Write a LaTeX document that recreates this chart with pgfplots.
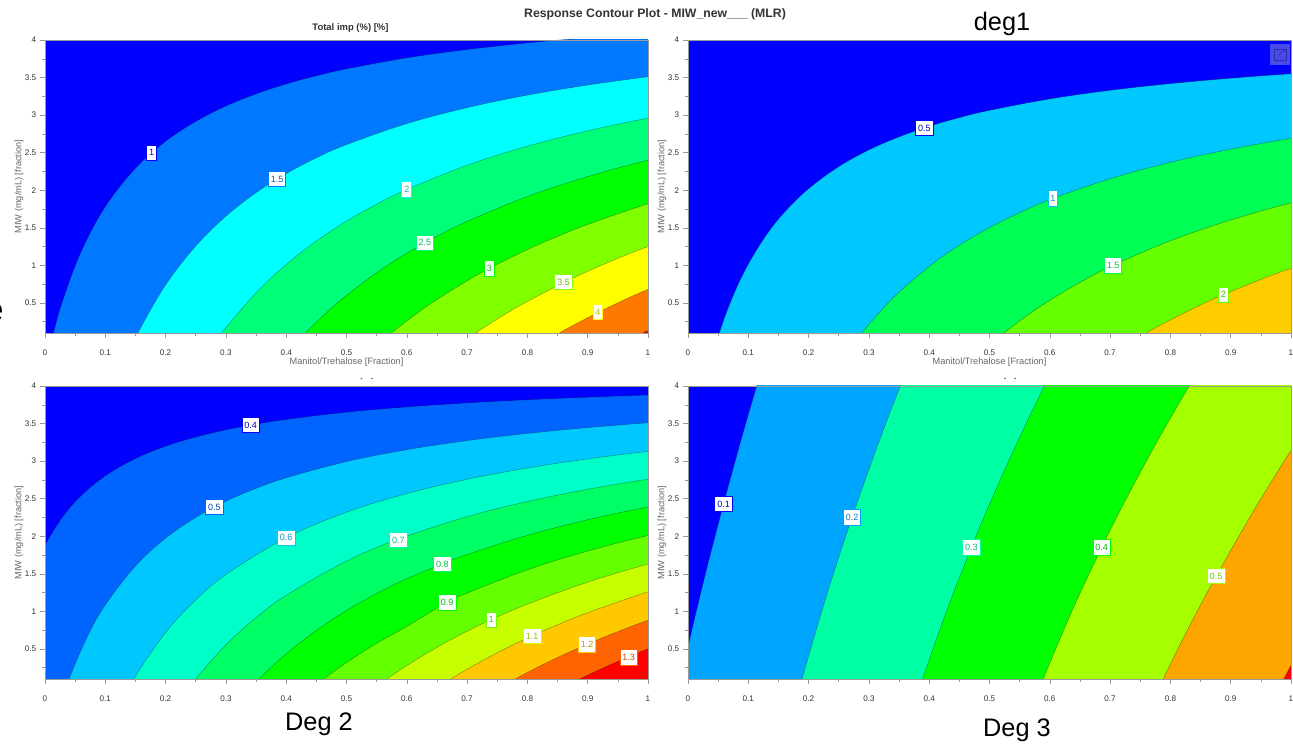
\documentclass[border=0pt]{standalone}
\usepackage{fontspec}
\setmainfont{Liberation Sans}
\usepackage{pgfplots}
\pgfplotsset{compat=1.18}
\definecolor{axg}{HTML}{9A9A9A}
\definecolor{txg}{HTML}{333333}
\definecolor{labg}{HTML}{666666}
\definecolor{iconf}{HTML}{4A4AE8}
\definecolor{icond}{HTML}{2C2CB0}
\pgfplotsset{
  cp/.style={
    scale only axis, width=452.25pt, height=219.75pt,
    xmin=0, xmax=1, ymin=0.1, ymax=4,
    xtick={0,0.1,0.2,0.3,0.4,0.5,0.6,0.7,0.8,0.9,1},
    minor xtick={0.05,0.15,0.25,0.35,0.45,0.55,0.65,0.75,0.85,0.95},
    ytick={0.5,1,1.5,2,2.5,3,3.5,4},
    minor ytick={0.25,0.75,1.25,1.75,2.25,2.75,3.25,3.75},
    xtick pos=bottom, ytick pos=left, tick align=outside,
    major tick length=3.6pt, minor tick length=2pt,
    tick style={axg, line width=0.4pt},
    axis line style={axg, line width=0.45pt},
    axis background/.style={fill=lvA},
    axis on top,
    clip mode=global,
    tick label style={font=\fontsize{6.1}{7}\selectfont, text=txg},
    /pgf/number format/assume math mode=true,
    /pgf/number format/fixed, /pgf/number format/precision=2,
    xticklabel style={yshift=-5.5pt},
    yticklabel style={xshift=0.5pt},
    every axis x label/.style={at={(axis description cs:0.5,0)},anchor=center,yshift=-22pt,font=\fontsize{6.9}{8}\selectfont,text=labg},
    every axis y label/.style={at={(axis description cs:0,0.5)},rotate=90,anchor=center,yshift=19.5pt,font=\fontsize{6.9}{8}\selectfont,text=labg},
    ylabel={MIW (mg/mL) [fraction]},
  },
  rg/.style={smooth, tension=0.6, fill=#1, draw=black, draw opacity=0.35, line width=0.4pt, no markers, forget plot},
}
\newcommand{\lab}[4]{\node[fill=white,draw=#4,line width=0.6pt,inner xsep=1.8pt,inner ysep=3.4pt,text=#4!75!black,font=\fontsize{6.8}{7}\selectfont] at (axis cs:#1,#2) {#3};}
\colorlet{lvA}{blue}
\begin{document}
\begin{tikzpicture}[x=0.75pt,y=0.75pt]
\path[use as bounding box] (0,0) rectangle (1293,744);
\definecolor{a1}{HTML}{0078FF}\definecolor{a2}{HTML}{00FFFF}\definecolor{a3}{HTML}{00FF78}\definecolor{a4}{HTML}{00FF00}\definecolor{a5}{HTML}{80FF00}\definecolor{a6}{HTML}{FFFF00}\definecolor{a7}{HTML}{FF7800}
\definecolor{b1}{HTML}{00C8FF}\definecolor{b2}{HTML}{00FF55}\definecolor{b3}{HTML}{66FF00}\definecolor{b4}{HTML}{FFCC00}
\definecolor{c1}{HTML}{0064FF}\definecolor{c2}{HTML}{00C8FF}\definecolor{c3}{HTML}{00FFC8}\definecolor{c4}{HTML}{00FF64}\definecolor{c5}{HTML}{00FF00}\definecolor{c6}{HTML}{64FF00}\definecolor{c7}{HTML}{C8FF00}\definecolor{c8}{HTML}{FFC800}\definecolor{c9}{HTML}{FF6400}
\definecolor{d1}{HTML}{00A5FF}\definecolor{d2}{HTML}{00FFA5}\definecolor{d3}{HTML}{00FF00}\definecolor{d4}{HTML}{A5FF00}\definecolor{d5}{HTML}{FFA500}

% Top left
\begin{axis}[cp, at={(33.75pt,308.25pt)}, anchor=south west,
  xlabel={Manitol/Trehalose [Fraction]},
  title={Total imp (\%) [\%]},
  title style={font=\fontsize{7.1}{8}\bfseries\selectfont,text=txg,at={(axis description cs:0.5,1)},anchor=center,xshift=3pt,yshift=3pt}]
\addplot[rg=a1] coordinates {(0,-0.377)(0.014,0.1)(0.03,0.546)(0.06,1.184)(0.1,1.781)(0.15,2.292)(0.2,2.65)(0.25,2.915)(0.3,3.12)(0.35,3.282)(0.4,3.414)(0.45,3.523)(0.5,3.615)(0.6,3.762)(0.7,3.873)(0.8,3.961)(0.853,4.0)(0.95,4.062)(1.1,4.138)(1.25,4.2)(1.5,4.25)(1.6,3)(1.6,-2)};
\addplot[rg=a2] coordinates {(0.13,-0.324)(0.154,0.1)(0.2,0.739)(0.25,1.257)(0.3,1.654)(0.35,1.967)(0.4,2.221)(0.45,2.431)(0.5,2.607)(0.6,2.887)(0.7,3.099)(0.8,3.266)(0.9,3.4)(1,3.51)(1.1,3.602)(1.25,3.7)(1.5,3.8)(1.6,3)(1.6,-2)};
\addplot[rg=a3] coordinates {(0.27,-0.157)(0.293,0.1)(0.35,0.634)(0.4,1.011)(0.45,1.324)(0.5,1.588)(0.55,1.814)(0.6,2.01)(0.7,2.332)(0.8,2.586)(0.9,2.791)(1,2.96)(1.1,3.102)(1.25,3.25)(1.5,3.4)(1.6,2.5)(1.6,-2)};
\addplot[rg=a4] coordinates {(0.41,-0.089)(0.432,0.1)(0.47,0.394)(0.5,0.6)(0.55,0.902)(0.6,1.161)(0.65,1.387)(0.7,1.585)(0.8,1.916)(0.9,2.182)(1,2.4)(1.1,2.582)(1.25,2.8)(1.5,3)(1.6,2)(1.6,-2)};
\addplot[rg=a5] coordinates {(0.55,-0.062)(0.574,0.1)(0.62,0.381)(0.65,0.546)(0.7,0.795)(0.74,0.973)(0.8,1.211)(0.85,1.386)(0.9,1.545)(1,1.82)(1.1,2.05)(1.25,2.3)(1.5,2.6)(1.6,1.5)(1.6,-2)};
\addplot[rg=a6] coordinates {(0.69,-0.034)(0.714,0.1)(0.76,0.335)(0.8,0.52)(0.86,0.77)(0.9,0.921)(0.95,1.093)(1,1.25)(1.1,1.524)(1.25,1.85)(1.5,2.2)(1.6,1)(1.6,-2)};
\addplot[rg=a7] coordinates {(0.8,-0.155)(0.853,0.1)(0.9,0.303)(0.95,0.501)(1,0.68)(1.1,0.995)(1.25,1.35)(1.5,1.8)(1.6,0.5)(1.6,-2)};
\addplot[rg=red] coordinates {(0.97,0)(0.995,0.1)(1,0.13)(1.1,0.4)(1.25,0.7)(1.5,1)(1.6,0)(1.6,-2)};
\lab{0.177}{2.5}{1}{blue}
\lab{0.385}{2.15}{1.5}{a1}
\lab{0.6}{2.01}{2}{a2}
\lab{0.63}{1.3}{2.5}{a3}
\lab{0.737}{0.96}{3}{a4}
\lab{0.86}{0.78}{3.5}{a5}
\lab{0.917}{0.38}{4}{a6}
\end{axis}

% Top right
\begin{axis}[cp, at={(516pt,308.25pt)}, anchor=south west,
  xlabel={Manitol/Trehalose [Fraction]}]
\addplot[rg=b1] coordinates {(0.03,-0.527)(0.052,0.1)(0.075,0.598)(0.1,1.016)(0.13,1.404)(0.16,1.707)(0.2,2.02)(0.25,2.314)(0.3,2.536)(0.35,2.71)(0.4,2.851)(0.45,2.966)(0.5,3.063)(0.6,3.215)(0.7,3.33)(0.8,3.419)(0.9,3.491)(1,3.55)(1.1,3.599)(1.25,3.7)(1.5,3.8)(1.6,3)(1.6,-2)};
\addplot[rg=b2] coordinates {(0.265,-0.148)(0.288,0.1)(0.34,0.566)(0.4,0.986)(0.45,1.268)(0.5,1.503)(0.55,1.702)(0.605,1.89)(0.7,2.153)(0.8,2.371)(0.9,2.546)(1,2.69)(1.1,2.809)(1.25,2.95)(1.5,3.1)(1.6,2.2)(1.6,-2)};
\addplot[rg=b3] coordinates {(0.5,-0.06)(0.524,0.1)(0.56,0.319)(0.6,0.535)(0.65,0.773)(0.705,1)(0.8,1.327)(0.9,1.604)(1,1.831)(1.1,2.019)(1.25,2.25)(1.5,2.5)(1.6,1.5)(1.6,-2)};
\addplot[rg=b4] coordinates {(0.73,-0.042)(0.76,0.1)(0.8,0.275)(0.85,0.474)(0.888,0.611)(0.95,0.813)(1,0.96)(1.1,1.217)(1.25,1.5)(1.5,1.8)(1.6,0.8)(1.6,-2)};
\lab{0.392}{2.83}{0.5}{blue}
\lab{0.605}{1.89}{1}{b1}
\lab{0.705}{1.0}{1.5}{b2}
\lab{0.888}{0.61}{2}{b3}
\end{axis}
% expand icon on the top right panel
\fill[iconf] (1270,679) rectangle (1290,700);
\draw[icond, line width=0.5pt] (1274,684) rectangle (1286,695);
\draw[icond, line width=0.5pt] (1279,689) -- (1285,694);
% clipped text fragments between the panels
\fill[black!60] (361.5,365.5) circle (0.9);
\fill[black!60] (372,365.5) circle (0.9);
\fill[black!60] (1005,365.5) circle (0.9);
\fill[black!60] (1015,365.5) circle (0.9);

% Bottom left
\begin{axis}[cp, at={(33.75pt,48.75pt)}, anchor=south west]
\addplot[rg=c1] coordinates {(-0.08,-0.8)(-0.05,0.715)(-0.02,1.522)(0,1.88)(0.03,2.265)(0.06,2.54)(0.1,2.804)(0.15,3.034)(0.2,3.198)(0.25,3.32)(0.3,3.416)(0.35,3.492)(0.4,3.555)(0.5,3.651)(0.6,3.721)(0.7,3.775)(0.8,3.817)(0.9,3.851)(1,3.88)(1.1,3.904)(1.25,3.95)(1.5,4)(1.6,3)(1.6,-2)};
\addplot[rg=c2] coordinates {(0.02,-0.385)(0.04,0.1)(0.07,0.661)(0.1,1.086)(0.15,1.604)(0.2,1.974)(0.25,2.251)(0.3,2.466)(0.35,2.637)(0.4,2.778)(0.5,2.994)(0.6,3.152)(0.7,3.273)(0.8,3.369)(0.9,3.446)(1,3.51)(1.1,3.563)(1.25,3.65)(1.5,3.75)(1.6,3)(1.6,-2)};
\addplot[rg=c3] coordinates {(0.12,-0.309)(0.147,0.1)(0.2,0.719)(0.25,1.152)(0.3,1.49)(0.4,1.98)(0.5,2.319)(0.6,2.568)(0.7,2.758)(0.8,2.908)(0.9,3.029)(1,3.13)(1.1,3.214)(1.25,3.33)(1.5,3.45)(1.6,2.5)(1.6,-2)};
\addplot[rg=c4] coordinates {(0.22,-0.23)(0.25,0.1)(0.3,0.553)(0.35,0.916)(0.4,1.213)(0.5,1.669)(0.586,1.962)(0.7,2.26)(0.8,2.462)(0.9,2.625)(1,2.76)(1.1,2.874)(1.25,3)(1.5,3.15)(1.6,2.2)(1.6,-2)};
\addplot[rg=c5] coordinates {(0.33,-0.113)(0.355,0.1)(0.4,0.434)(0.45,0.746)(0.5,1.011)(0.55,1.237)(0.6,1.434)(0.66,1.637)(0.7,1.757)(0.8,2.012)(0.9,2.219)(1,2.39)(1.1,2.533)(1.25,2.7)(1.5,2.9)(1.6,2)(1.6,-2)};
\addplot[rg=c6] coordinates {(0.44,-0.03)(0.462,0.1)(0.5,0.319)(0.55,0.575)(0.6,0.8)(0.667,1.124)(0.7,1.243)(0.8,1.553)(0.9,1.803)(1,2.01)(1.1,2.184)(1.25,2.4)(1.5,2.65)(1.6,1.6)(1.6,-2)};
\addplot[rg=c7] coordinates {(0.53,-0.121)(0.567,0.1)(0.6,0.279)(0.65,0.521)(0.7,0.736)(0.74,0.89)(0.8,1.097)(0.9,1.389)(1,1.63)(1.1,1.833)(1.25,2.1)(1.5,2.4)(1.6,1.2)(1.6,-2)};
\addplot[rg=c8] coordinates {(0.64,-0.07)(0.673,0.1)(0.7,0.23)(0.75,0.449)(0.8,0.645)(0.85,0.822)(0.9,0.982)(1,1.26)(1.1,1.493)(1.25,1.8)(1.5,2.1)(1.6,1)(1.6,-2)};
\addplot[rg=c9] coordinates {(0.74,-0.084)(0.78,0.1)(0.82,0.268)(0.86,0.423)(0.9,0.566)(0.95,0.73)(1,0.88)(1.1,1.143)(1.25,1.45)(1.5,1.8)(1.6,0.8)(1.6,-2)};
\addplot[rg=red] coordinates {(0.85,-0.051)(0.887,0.1)(0.92,0.225)(0.95,0.333)(1,0.5)(1.1,0.794)(1.25,1.15)(1.5,1.5)(1.6,0.5)(1.6,-2)};
\lab{0.341}{3.48}{0.4}{blue}
\lab{0.281}{2.39}{0.5}{c1}
\lab{0.4}{1.98}{0.6}{c2}
\lab{0.586}{1.95}{0.7}{c3}
\lab{0.659}{1.63}{0.8}{c4}
\lab{0.667}{1.12}{0.9}{c5}
\lab{0.74}{0.89}{1}{c6}
\lab{0.808}{0.67}{1.1}{c7}
\lab{0.899}{0.56}{1.2}{c8}
\lab{0.968}{0.39}{1.3}{c9}
\end{axis}

% Bottom right
\begin{axis}[cp, at={(516pt,48.75pt)}, anchor=south west]
\addplot[rg=d1] coordinates {(-0.0177,-0.1)(0,0.53)(0.0198,1.2)(0.0385,1.8)(0.059,2.43)(0.0783,3)(0.0958,3.5)(0.114,4)(0.1289,4.4)(0.16,4.9)(0.3,5.5)(1.5,6)(1.6,2)(1.6,-2)};
\addplot[rg=d2] coordinates {(0.1754,-0.3)(0.189,0.1)(0.2217,1)(0.2451,1.6)(0.272,2.25)(0.3049,3)(0.328,3.5)(0.352,4)(0.3718,4.4)(0.4,4.9)(0.55,5.5)(1.5,6)(1.6,2)(1.6,-2)};
\addplot[rg=d3] coordinates {(0.3727,-0.3)(0.389,0.1)(0.4287,1)(0.47,1.85)(0.5041,2.5)(0.5461,3.25)(0.591,4)(0.6161,4.4)(0.65,4.9)(0.8,5.5)(1.5,6)(1.6,2)(1.6,-2)};
\addplot[rg=d4] coordinates {(0.5695,-0.3)(0.589,0.1)(0.6365,1)(0.686,1.85)(0.7268,2.5)(0.7772,3.25)(0.831,4)(0.8611,4.4)(0.9,4.9)(1.05,5.5)(1.5,6)(1.6,2)(1.6,-2)};
\addplot[rg=d5] coordinates {(0.7646,-0.3)(0.788,0.1)(0.8282,0.75)(0.876,1.47)(0.9353,2.3)(0.9732,2.8)(1,3.14)(1.0457,3.7)(1.1146,4.5)(1.25,5.5)(1.5,6)(1.6,2)(1.6,-2)};
\addplot[rg=red] coordinates {(0.97,-0.17)(0.988,0.1)(1,0.28)(1.03,0.73)(1.15,1.5)(1.5,2)(1.6,0.5)(1.6,-2)};
\lab{0.059}{2.43}{0.1}{blue}
\lab{0.272}{2.25}{0.2}{d1}
\lab{0.47}{1.85}{0.3}{d2}
\lab{0.686}{1.85}{0.4}{d3}
\lab{0.876}{1.47}{0.5}{d4}
\end{axis}

\node[font=\fontsize{9.2}{11}\bfseries\selectfont,text=txg] at (655,730) {Response Contour Plot - MIW\_new\_\_\_ (MLR)};
\node[font=\fontsize{19}{22}\selectfont] at (1002,720) {deg1};
\node[font=\fontsize{19}{22}\selectfont] at (319,20) {Deg 2};
\node[font=\fontsize{19}{22}\selectfont] at (1017,14) {Deg 3};
\node[font=\fontsize{26}{28}\selectfont,anchor=east,inner sep=0pt] at (4,432) {e};
\end{tikzpicture}
\end{document}
